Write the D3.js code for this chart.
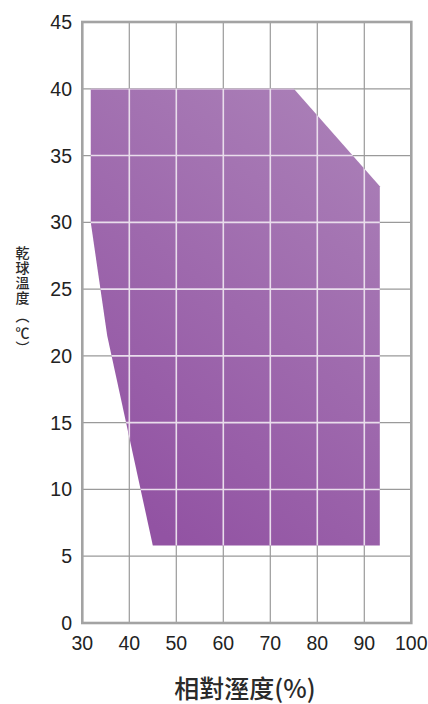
<!DOCTYPE html>
<html>
<head>
<meta charset="utf-8">
<script src="https://cdn.jsdelivr.net/npm/d3@7/dist/d3.min.js"></script>
<style>
  html, body { margin: 0; padding: 0; background: #fff; }
  svg { display: block; }
</style>
</head>
<body>
<svg id="chart" width="428" height="704"></svg>
<script>
// Axis ticks
const rhTicks = [30, 40, 50, 60, 70, 80, 90, 100];
const tempTicks = [0, 5, 10, 15, 20, 25, 30, 35, 40, 45];

// Operating zone outline: relative humidity (%) and dry-bulb temperature (°C)
const zoneRH   = [31.8, 75, 93.3, 93.3, 45, 35.3, 31.8];
const zoneTemp = [40,   40, 32.7, 5.8,  5.8, 21.5, 30];

const yTitleChars = ["乾", "球", "溫", "度", "︵", "℃", "︶"];
const xTitle = "相對溼度(%)";

const svg = d3.select("#chart");
const plotL = 82.3, plotR = 411.3, plotT = 22, plotB = 623;

const x = d3.scaleLinear().domain([30, 100]).range([plotL, plotR]);
const y = d3.scaleLinear().domain([0, 45]).range([plotB, plotT]);

const defs = svg.append("defs");
const grad = defs.append("linearGradient")
  .attr("id", "zoneFill").attr("x1", "0.8").attr("y1", "0").attr("x2", "0.3").attr("y2", "1");
grad.append("stop").attr("offset", "0%").attr("stop-color", "#aa7fb7");
grad.append("stop").attr("offset", "100%").attr("stop-color", "#9253a3");

const zonePts = zoneRH.map((r, i) => [x(r), y(zoneTemp[i])]);
const line = d3.line();

defs.append("clipPath").attr("id", "zoneClip")
  .append("path").attr("d", line(zonePts) + "Z");

// grid lines
function drawGrid(g, color, width) {
  g.selectAll(".vx").data(rhTicks.slice(1, -1)).join("line")
    .attr("x1", d => x(d)).attr("x2", d => x(d))
    .attr("y1", plotT).attr("y2", plotB)
    .attr("stroke", color).attr("stroke-width", width);
  g.selectAll(".hy").data(tempTicks.slice(1, -1)).join("line")
    .attr("x1", plotL).attr("x2", plotR)
    .attr("y1", d => y(d)).attr("y2", d => y(d))
    .attr("stroke", color).attr("stroke-width", width);
}
const gridG = svg.append("g");
drawGrid(gridG, "#9a9a9a", 1.2);

svg.append("path")
  .attr("d", line(zonePts) + "Z")
  .attr("fill", "url(#zoneFill)");

// lighter grid lines where they cross the zone
const gridIn = svg.append("g").attr("clip-path", "url(#zoneClip)");
drawGrid(gridIn, "#e9ddec", 1.6);

// frame
svg.append("rect")
  .attr("x", plotL).attr("y", plotT)
  .attr("width", plotR - plotL).attr("height", plotB - plotT)
  .attr("fill", "none").attr("stroke", "#a3a3a3").attr("stroke-width", 2.6);

// y tick labels
svg.append("g").selectAll("text").data(tempTicks).join("text")
  .attr("x", 72).attr("y", d => y(d) + 7)
  .attr("text-anchor", "end")
  .attr("font-family", "Liberation Sans, Arial, sans-serif")
  .attr("font-size", 19.5).attr("fill", "#222")
  .text(d => d);

// x tick labels
svg.append("g").selectAll("text").data(rhTicks).join("text")
  .attr("x", d => x(d)).attr("y", 650)
  .attr("text-anchor", "middle")
  .attr("font-family", "Liberation Sans, Arial, sans-serif")
  .attr("font-size", 19.5).attr("fill", "#222")
  .text(d => d);

// x axis title
svg.append("text")
  .attr("x", 245).attr("y", 698)
  .attr("text-anchor", "middle")
  .attr("font-family", "Noto Sans CJK TC, sans-serif")
  .attr("font-weight", 500)
  .attr("font-size", 25).attr("fill", "#2a2a2a")
  .text(xTitle);

// y axis title, stacked vertically (parentheses take a little more room)
const yTitleStep = [0, 15, 15, 15, 18, 17, 15];
let acc = 252;
const yTitlePos = yTitleStep.map(s => (acc += s));
svg.append("g").selectAll("text").data(yTitleChars).join("text")
  .attr("x", 22.5).attr("y", (d, i) => yTitlePos[i])
  .attr("dominant-baseline", "central")
  .attr("text-anchor", "middle")
  .attr("font-family", "Noto Sans CJK TC, sans-serif")
  .attr("font-weight", 500)
  .attr("font-size", 14).attr("fill", "#2a2a2a")
  .text(d => d);
</script>
</body>
</html>
